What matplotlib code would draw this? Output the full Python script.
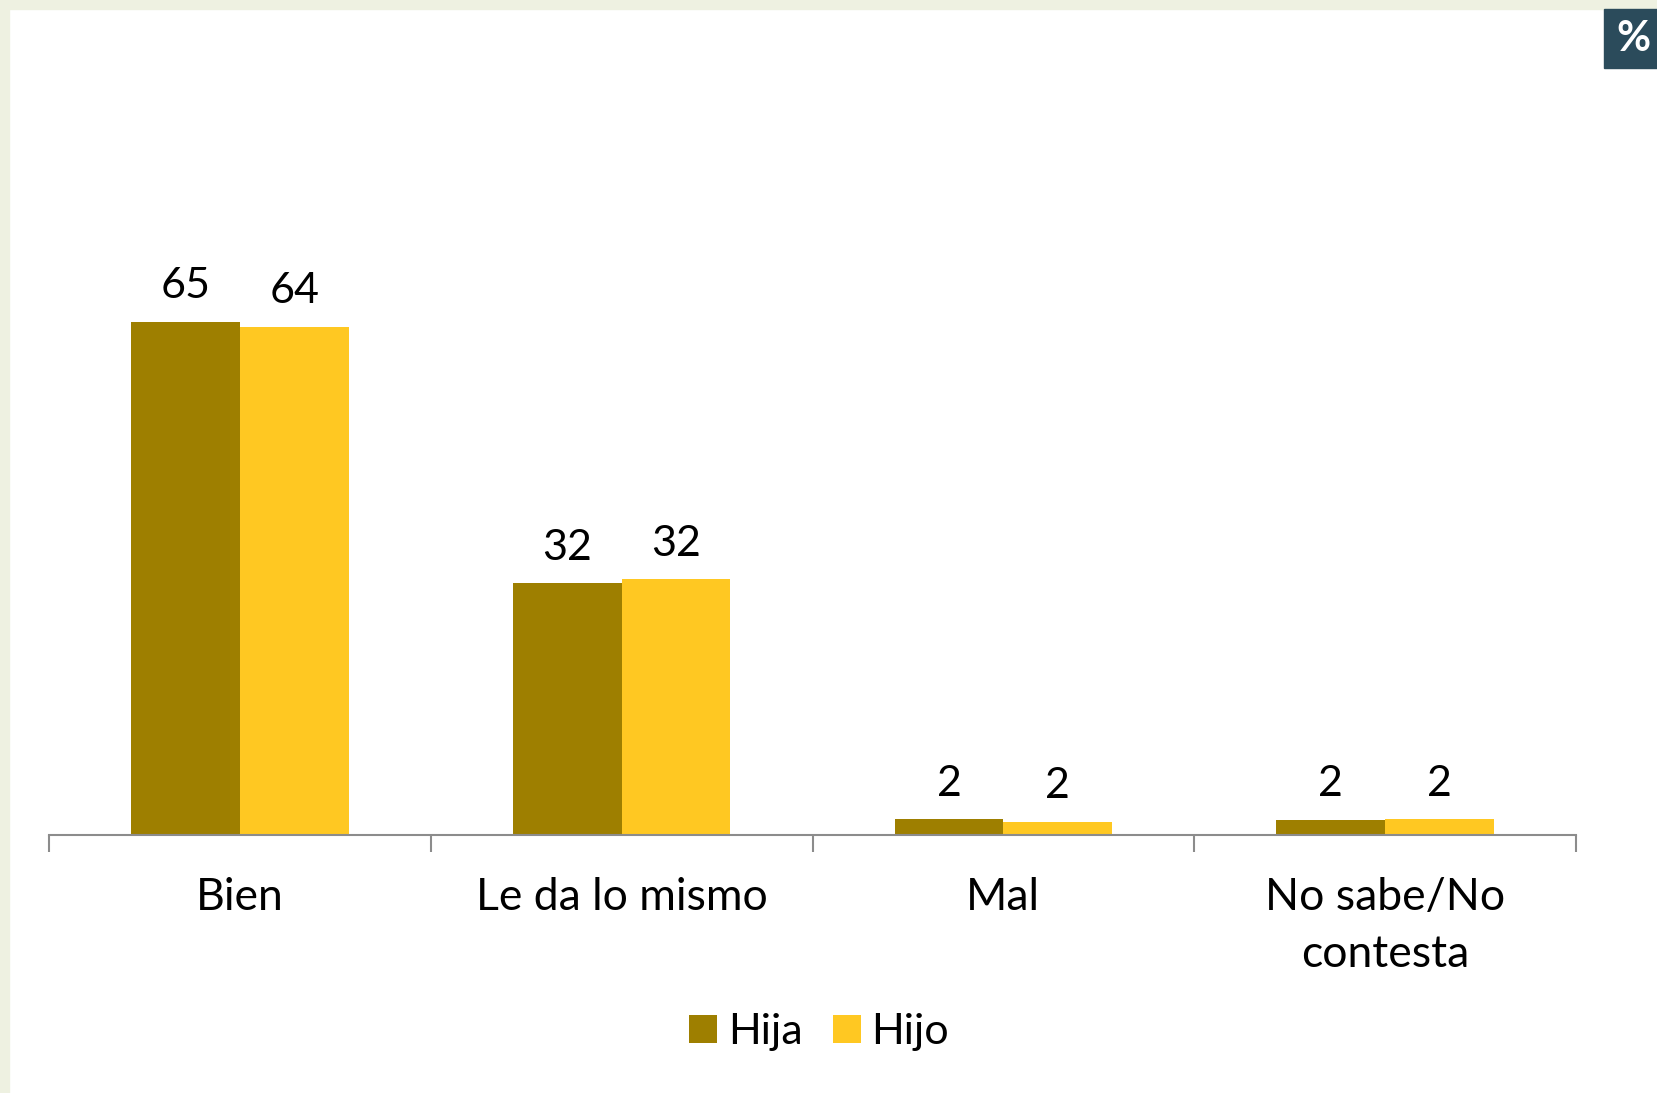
import numpy as np
import matplotlib.pyplot as plt
from matplotlib.patches import Rectangle

categories = ['Bien', 'Le da lo mismo', 'Mal', 'No sabe/No\ncontesta']
hija = [65.0, 31.9, 2.0, 1.9]
hijo = [64.4, 32.4, 1.7, 2.0]
hija_labels = ['65', '32', '2', '2']
hijo_labels = ['64', '32', '2', '2']

c_hija = '#9e7f00'
c_hijo = '#ffc822'

plt.rcParams['font.family'] = ['Lato', 'DejaVu Sans']

W, H = 1657, 1093
fig = plt.figure(figsize=(W / 100, H / 100), dpi=100)
fig.patch.set_facecolor('white')

# pale border strips along top and left
fig.add_artist(Rectangle((0, 1 - 9 / H), 1, 9 / H, transform=fig.transFigure,
                         color='#eef1e1', zorder=0))
fig.add_artist(Rectangle((0, 0), 9 / W, 1, transform=fig.transFigure,
                         color='#eef1e1', zorder=0))

# % badge
fig.add_artist(Rectangle((1604 / W, 1 - 68 / H), 53 / W, 59 / H,
                         transform=fig.transFigure, color='#2b4b5b', zorder=1))
fig.text(1633 / W, 1 - 39 / H, '%', color='white', fontsize=30,
         fontweight='bold', ha='center', va='center')

ax_l, ax_r = 49 / W, 1576 / W
ax_b = 1 - 835 / H
ax_t = 1 - (835 - 80 * 7.89) / H
ax = fig.add_axes([ax_l, ax_b, ax_r - ax_l, ax_t - ax_b])

x = np.arange(len(categories))
w = 0.285
b1 = ax.bar(x - w / 2, hija, w, color=c_hija, label='Hija')
b2 = ax.bar(x + w / 2, hijo, w, color=c_hijo, label='Hijo')

for bars, labs in ((b1, hija_labels), (b2, hijo_labels)):
    for bar, lab in zip(bars, labs):
        ax.annotate(lab, (bar.get_x() + bar.get_width() / 2, bar.get_height()),
                    xytext=(0, 12), textcoords='offset points',
                    ha='center', va='bottom', fontsize=31)

ax.set_xlim(-0.5, len(categories) - 0.5)
ax.set_ylim(0, 80)
ax.set_yticks([])
for s in ('top', 'right', 'left'):
    ax.spines[s].set_visible(False)
ax.spines['bottom'].set_color('#8c8c8c')
ax.spines['bottom'].set_linewidth(1.5)

ax.set_xticks(np.arange(len(categories) + 1) - 0.5, minor=True)
ax.set_xticks(x)
ax.set_xticklabels(categories, fontsize=32, linespacing=1.5, va='top')
ax.tick_params(axis='x', which='major', length=0, pad=30)
ax.tick_params(axis='x', which='minor', length=12, color='#8c8c8c', width=1.5)
ax.set_facecolor('none')

ax.legend(loc='center', bbox_to_anchor=(819 / W, 1 - 1032 / H),
          bbox_transform=fig.transFigure, ncol=2, frameon=False,
          fontsize=31, handlelength=0.65, handleheight=0.65,
          handletextpad=0.25, columnspacing=0.7)

fig.savefig('out.png', dpi=100)
